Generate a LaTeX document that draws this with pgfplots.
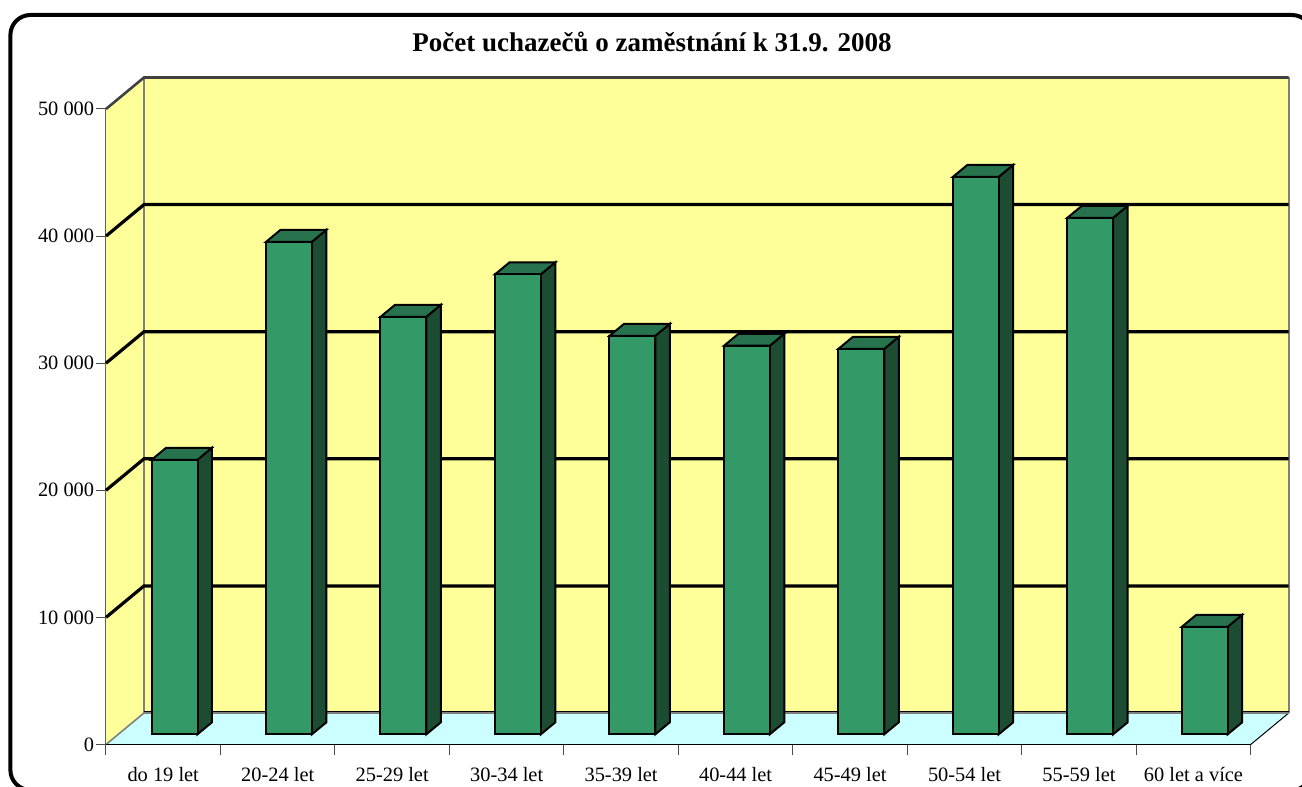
\documentclass[border=0pt]{standalone}
\usepackage{fontspec}
\setmainfont{Liberation Serif}
\usepackage{pgfplots}
\pgfplotsset{compat=1.18}
\definecolor{wall}{HTML}{FFFF99}
\definecolor{floorc}{HTML}{CCFFFF}
\definecolor{front}{HTML}{339966}
\definecolor{side}{HTML}{1C4D33}
\definecolor{topc}{HTML}{26734D}
\definecolor{edge}{HTML}{808080}
% depth of the walls and of the bars, in axis units
\def\wx{0.332}\def\wy{2478}
\def\hw{0.2}\def\bx{0.1267}\def\by{944}
\newcommand{\barfaces}[2]{%
  \addplot[fill=side,draw=black,line width=1pt] coordinates {({#1+\hw},0) ({#1+\hw+\bx},\by) ({#1+\hw+\bx},{#2+\by}) ({#1+\hw},#2)} -- cycle;
  \addplot[fill=topc,draw=black,line width=1pt] coordinates {({#1-\hw},#2) ({#1-\hw+\bx},{#2+\by}) ({#1+\hw+\bx},{#2+\by}) ({#1+\hw},#2)} -- cycle;
}
\newcommand{\gridl}[1]{%
  \addplot[black,line width=1.6pt] coordinates {(-0.5,#1) ({-0.5+\wx},{#1+\wy}) ({9.5+\wx},{#1+\wy})};
}
\begin{document}
\begin{tikzpicture}
\clip (0,0) rectangle (651pt,393.5pt);
\path[use as bounding box] (0,0) rectangle (651pt,393.5pt);
\fill[white] (0,0) rectangle (651pt,393.5pt);
\draw[black,line width=2pt,rounded corners=10pt] (5.2pt,-1.5pt) rectangle (656pt,386pt);
\begin{axis}[
  at={(53pt,21.25pt)},anchor=south west,
  scale only axis,width=572.35pt,height=317.75pt,
  xmin=-0.5,xmax=9.5,ymin=0,ymax=50000,clip=false,
  axis lines*=left,
  axis line style={-,line width=0.7pt,color=black!70},
  tick align=outside,
  scaled ticks=false,
  xtick={0,...,9},
  xticklabels={do 19 let,20-24 let,25-29 let,30-34 let,35-39 let,40-44 let,45-49 let,50-54 let,55-59 let,60 let a více},
  minor xtick={-0.5,0.5,...,9.5},
  major x tick style={draw=none},
  minor tick length=5.5pt,
  minor tick style={line width=0.5pt,black!70},
  ytick={0,10000,20000,30000,40000,50000},
  yticklabels={0,10 000,20 000,30 000,40 000,50 000},
  major tick length=5pt,
  y tick style={line width=0.5pt,black!70},
  tick label style={font=\fontsize{10.2pt}{12pt}\selectfont},
  xticklabel style={yshift=-3pt},
  yticklabel style={xshift=2.6pt},
  title={\textbf{Počet uchazečů o zaměstnání k 31.9. 2008}},
  title style={at={(0.477,1.0866)},anchor=center,font=\fontsize{13.5pt}{15pt}\selectfont},
]
% back wall, left wall, floor
\addplot[fill=wall,draw=none] coordinates {({-0.5+\wx},\wy) ({9.5+\wx},\wy) ({9.5+\wx},{50000+\wy}) ({-0.5+\wx},{50000+\wy})} -- cycle;
\addplot[fill=wall,draw=none] coordinates {(-0.5,0) ({-0.5+\wx},\wy) ({-0.5+\wx},{50000+\wy}) (-0.5,50000)} -- cycle;
\addplot[fill=floorc,draw=none] coordinates {(-0.5,0) (9.5,0) ({9.5+\wx},\wy) ({-0.5+\wx},\wy)} -- cycle;
\addplot[black,line width=0.5pt] coordinates {(9.5,0) ({9.5+\wx},\wy)};
% wall edges
\addplot[edge,line width=0.8pt] coordinates {({-0.5+\wx},\wy) ({-0.5+\wx},{50000+\wy})};
\addplot[edge,line width=0.8pt] coordinates {({9.5+\wx},\wy) ({9.5+\wx},{50000+\wy})};
\addplot[edge,line width=0.8pt] coordinates {(-0.5,0) ({-0.5+\wx},\wy)};
% grid lines
\gridl{10000}\gridl{20000}\gridl{30000}\gridl{40000}
\addplot[black!75,line width=1.3pt] coordinates {(-0.5,50000) ({-0.5+\wx},{50000+\wy}) ({9.5+\wx},{50000+\wy})};
\addplot[edge,line width=1pt] coordinates {({-0.5+\wx},\wy) ({9.5+\wx},\wy)};
\addplot[black,line width=0.5pt] coordinates {({-0.5+\wx},{\wy+80}) ({9.5+\wx},{\wy+80})};
\addplot[black,line width=0.6pt] coordinates {(-0.5,0) (9.5,0)};
\end{axis}
\begin{axis}[
  at={(58.65pt,26.35pt)},anchor=south west,
  scale only axis,width=572.35pt,height=317.75pt,
  xmin=-0.5,xmax=9.5,ymin=0,ymax=50000,clip=false,hide axis,
]
\barfaces{0}{21600}
\barfaces{1}{38750}
\barfaces{2}{32850}
\barfaces{3}{36190}
\barfaces{4}{31350}
\barfaces{5}{30570}
\barfaces{6}{30330}
\barfaces{7}{43860}
\barfaces{8}{40640}
\barfaces{9}{8460}
\addplot[ybar,bar width=23pt,fill=front,draw=black,line width=1pt] coordinates {
(0,21600) (1,38750) (2,32850) (3,36190) (4,31350) (5,30570) (6,30330) (7,43860) (8,40640) (9,8460)};
\end{axis}
\end{tikzpicture}
\end{document}
